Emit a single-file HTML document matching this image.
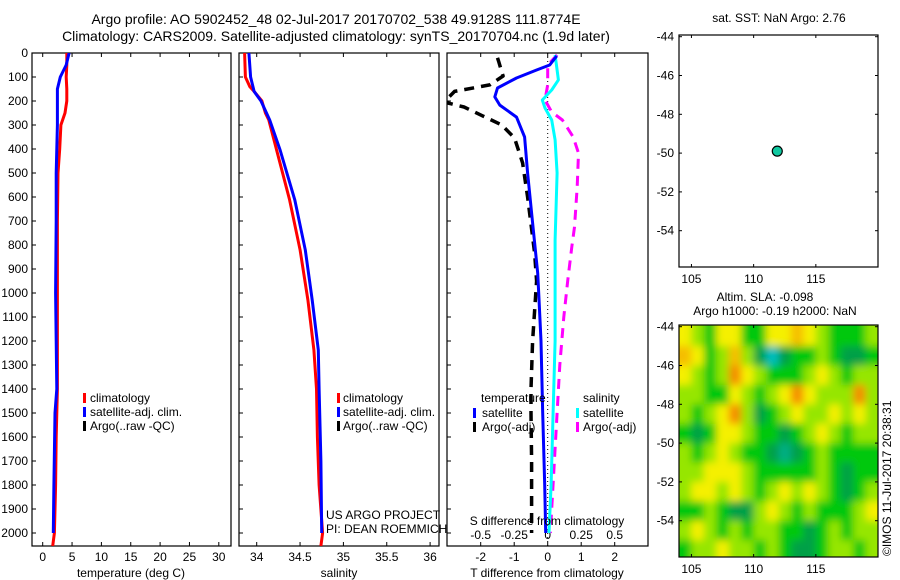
<!DOCTYPE html>
<html><head><meta charset="utf-8"><style>
body{margin:0;background:#fff}
svg{display:block;font-family:"Liberation Sans",sans-serif}
</style></head><body>
<svg id="fig" width="900" height="580" viewBox="0 0 900 580" xmlns="http://www.w3.org/2000/svg">
<defs>
<clipPath id="c1"><rect x="32" y="53" width="199" height="493"/></clipPath>
<clipPath id="c2"><rect x="239" y="53" width="200" height="493"/></clipPath>
<clipPath id="c3"><rect x="447" y="53" width="201" height="493"/></clipPath>
<clipPath id="cm"><rect x="679" y="325" width="199" height="232"/></clipPath>
<filter id="blur" x="-20%" y="-20%" width="140%" height="140%"><feGaussianBlur stdDeviation="4"/></filter>
</defs>
<text x="336" y="24" font-size="14" text-anchor="middle">Argo profile: AO 5902452_48 02-Jul-2017 20170702_538 49.9128S 111.8774E</text>
<text x="336" y="41" font-size="14" text-anchor="middle">Climatology: CARS2009. Satellite-adjusted climatology: synTS_20170704.nc (1.9d later)</text>
<g id="g"></g>
</svg>
<script>
// ---- data ----
const tClimDepth=[0,50,100,150,200,250,300,400,500,700,1000,1200,1400,1600,1800,2000,2054];
const tClimVal=[4.1,4.1,4.0,4.1,4.1,3.8,3.1,2.9,2.6,2.5,2.5,2.5,2.5,2.3,2.2,2.0,1.7];
const tSatDepth=[0,50,100,150,200,300,500,700,1000,1200,1400,1500,1800,2000];
const tSatVal=[4.5,4.0,3.0,2.5,2.5,2.5,2.3,2.3,2.2,2.3,2.4,2.1,1.9,1.8];
const sClimDepth=[0,100,140,160,200,250,279,404,612,821,1029,1237,1400,1600,1800,2000,2054];
const sClimVal=[33.86,33.87,33.92,33.97,34.06,34.10,34.14,34.23,34.38,34.50,34.59,34.66,34.69,34.70,34.72,34.76,34.74];
const sSatDepth=[0,100,160,200,279,404,612,821,1029,1237,1400,1700,2000];
const sSatVal=[33.91,33.93,33.97,34.05,34.15,34.27,34.44,34.56,34.64,34.71,34.72,34.74,34.75];
const dtSatDepth=[12,50,71,104,146,183,217,267,350,500,708,917,1000,1200,1500,1800,2000];
const dtSatVal=[0.27,0.06,-0.33,-0.93,-1.5,-1.58,-1.43,-0.93,-0.69,-0.6,-0.45,-0.3,-0.27,-0.2,-0.15,-0.09,-0.06];
const dtArgoDepth=[20,37,79,96,133,160,204,225,262,300,354,458,600,833,950,1200,1400,1500,1700,1900,2000];
const dtArgoVal=[-1.5,-1.46,-1.37,-1.33,-1.73,-2.78,-3.1,-2.5,-1.94,-1.37,-0.99,-0.75,-0.6,-0.39,-0.33,-0.45,-0.5,-0.5,-0.48,-0.48,-0.48];
const dsSatDepth=[8,71,112,154,196,229,279,362,500,779,975,1200,1500,1800,2000];
const dsSatVal=[0.055,0.07,0.08,0.03,-0.04,-0.02,0.03,0.055,0.07,0.055,0.055,0.055,0.04,0.025,0.01];
const dsArgoDepth=[8,50,83,133,196,246,279,350,417,558,725,808,946,1100,1300,1500,1700,1900,2000];
const dsArgoVal=[0.07,0.0,0.0,0.0,-0.02,0.03,0.11,0.19,0.23,0.22,0.2,0.18,0.15,0.12,0.09,0.07,0.05,0.03,0.02];
const depthTicks=[0,100,200,300,400,500,600,700,800,900,1000,1100,1200,1300,1400,1500,1600,1700,1800,1900,2000];
const tTicks=[0,5,10,15,20,25,30];
const sTicks=[34,34.5,35,35.5,36];
const dtTicks=[-2,-1,0,1,2];
const dsTicks=[-0.5,-0.25,0,0.25,0.5];
const dsTickLabels=["-0.5","-0.25","0","0.25","0.5"];
const lonTicks=[105,110,115];
const latTicks=[-44,-46,-48,-50,-52,-54];
const floatLon=[111.9];
const floatLat=[-49.9];
// SLA level grid (rows lat -44..-56 step 1, cols lon 104..120 step 1); 0=low(teal) .. 5=high(orange)
const slaGrid=[
[4,3,2,4,4,2,2,4,4,4.5,4,3,2,2,2,3],
[4.5,4,2,3,4.5,3,1,0,1,2,2,3,2,1,1,2],
[4,3,2,3,5,4,3,2,2,2,3,4,3,2,3,3],
[3,3,2,2,4,3,2,3,4,5,4,3,3,3,5,3],
[3,2,3,4,5,3,1,2,3,4,3,3,4,3,4,3],
[2,1,2,4,4,3,2,2,1,2,3,4,3,2,3,3],
[3,2,3,4,3,2,2,1,0.5,1,2,3,2,2,2,2],
[3,3,4,4,4,3,2,2,2,2,2,3,2,1,2,2],
[3,4,4,3,4,3,2,3,4,3,4,3,2,1,2,3],
[2,2,3,2,1,1,3,4,3,2,3,2,2,2,3,4],
[3,4,3,2,3,2,3,3,2,2,1,2,3,2,3,3],
[2,3,3,4,3,3,2,3,2,1,1,2,3,3,2,3]];

// ---- helpers ----
const NS="http://www.w3.org/2000/svg";
const G=document.getElementById('g');
function mk(tag,attrs,parent){const e=document.createElementNS(NS,tag);for(const k in attrs)e.setAttribute(k,attrs[k]);(parent||G).appendChild(e);return e;}
const Y0=53,PXD=0.24;
const yD=d=>Y0+d*PXD;
const xT=v=>42.7+v*5.87;
const xS=v=>256.7+(v-34)*86.7;
const xDT=v=>547.7+v*33.5;
const xDS=v=>547.7+v*134;
const xLon=v=>679+(v-104)*12.44;
const yLat1=v=>36.7+(-44-v)*19.4;
const yLat2=v=>326.7+(-44-v)*19.4;

function frame(x,y,w,h,name){const r=mk('rect',{x:x,y:y,width:w,height:h,fill:'none',stroke:'#000','stroke-width':1.2});}
function line(depths,vals,xf,color,w,dash,clip,name){
  let d='';depths.forEach((dp,i)=>{d+=(i?'L':'M')+xf(vals[i]).toFixed(1)+','+yD(dp).toFixed(1);});
  const p=mk('path',{d:d,fill:'none',stroke:color,'stroke-width':w,'clip-path':'url(#'+clip+')','stroke-linejoin':'round'});
  if(dash)p.setAttribute('stroke-dasharray',dash);
  
}
function txt(x,y,s,size,anchor,name){const t=mk('text',{x:x,y:y,'font-size':size,'text-anchor':anchor||'start'});t.textContent=s;return t;}

// depth axes
[[32,231],[239,439],[447,648]].forEach((p,pi)=>{
  depthTicks.forEach(d=>{mk('line',{x1:p[0],x2:p[0]+4,y1:yD(d),y2:yD(d),stroke:'#000'});});
});
depthTicks.forEach(d=>{txt(28,yD(d)+4,String(d),12,'end','depth-tick-label');});

// panel 1
frame(32,53,199,493,'temperature-panel');
tTicks.forEach(v=>{mk('line',{x1:xT(v),x2:xT(v),y1:53,y2:57,stroke:'#000'});mk('line',{x1:xT(v),x2:xT(v),y1:546,y2:542,stroke:'#000'});txt(xT(v),561,String(v),12,'middle','temperature-tick-label');});
txt(131,577,'temperature (deg C)',12,'middle','temperature-axis-title');
line(tClimDepth,tClimVal,xT,'#f00',3,null,'c1','temperature-climatology-line');
line(tSatDepth,tSatVal,xT,'#00f',3,null,'c1','temperature-satellite-line');

// panel 2
frame(239,53,200,493,'salinity-panel');
sTicks.forEach(v=>{mk('line',{x1:xS(v),x2:xS(v),y1:53,y2:57,stroke:'#000'});mk('line',{x1:xS(v),x2:xS(v),y1:546,y2:542,stroke:'#000'});txt(xS(v),561,String(v),12,'middle','salinity-tick-label');});
txt(339,577,'salinity',12,'middle','salinity-axis-title');
line(sClimDepth,sClimVal,xS,'#f00',3,null,'c2','salinity-climatology-line');
line(sSatDepth,sSatVal,xS,'#00f',3,null,'c2','salinity-satellite-line');

// legends panels 1,2
[[83,90],[337,343]].forEach((l,i)=>{
  const items=[['#f00','climatology'],['#00f','satellite-adj. clim.'],['#000','Argo(..raw -QC)']];
  items.forEach((it,j)=>{const y=398+j*14;mk('rect',{x:l[0],y:y-5,width:3,height:10,fill:it[0]});txt(l[1],y+4,it[1],12,'start','legend-entry');});
});
txt(326,519,'US ARGO PROJECT',12,'start','project-label');
txt(326,533,'PI: DEAN ROEMMICH',12,'start','pi-label');

// panel 3
frame(447,53,201,493,'difference-panel');
dtTicks.forEach(v=>{mk('line',{x1:xDT(v),x2:xDT(v),y1:53,y2:57,stroke:'#000'});mk('line',{x1:xDT(v),x2:xDT(v),y1:546,y2:542,stroke:'#000'});txt(xDT(v),561,String(v),12,'middle','t-diff-tick-label');});
dsTicks.forEach((v,i)=>{txt(xDS(v),539,dsTickLabels[i],12,'middle','s-diff-tick-label');});
mk('line',{x1:xDT(0),x2:xDT(0),y1:53,y2:546,stroke:'#000','stroke-width':1,'stroke-dasharray':'1 3'});
line(dtArgoDepth,dtArgoVal,xDT,'#000',3.5,'10 7','c3','t-diff-argo-line');
line(dsArgoDepth,dsArgoVal,xDS,'#f0f',3,'10 7','c3','s-diff-argo-line');
line(dsSatDepth,dsSatVal,xDS,'#0ff',3,null,'c3','s-diff-satellite-line');
line(dtSatDepth,dtSatVal,xDT,'#00f',3,null,'c3','t-diff-satellite-line');
txt(481,402,'temperature',12,'start','legend-title-temperature');
txt(583,402,'salinity',12,'start','legend-title-salinity');
[[473,482,'#00f','satellite',0],[473,482,'#000','Argo(-adj)',1],[576,583,'#0ff','satellite',0],[576,583,'#f0f','Argo(-adj)',1]].forEach(it=>{
  const y=413+it[4]*14;mk('rect',{x:it[0],y:y-5,width:3,height:10,fill:it[2]});txt(it[1],y+4,it[3],12,'start','legend-entry');});
txt(547,525,'S difference from climatology',12,'middle','s-diff-axis-title');
txt(547,577,'T difference from climatology',12,'middle','t-diff-axis-title');

// map 1
txt(779,22,'sat. SST: NaN Argo: 2.76',12,'middle','sst-map-title');
frame(679,35,199,232,'sst-map');
function mapTicks(top,bot,yl,name){
  lonTicks.forEach(v=>{mk('line',{x1:xLon(v),x2:xLon(v),y1:top,y2:top+3,stroke:'#000'});mk('line',{x1:xLon(v),x2:xLon(v),y1:bot,y2:bot-3,stroke:'#000'});txt(xLon(v),bot+16,String(v),12,'middle',name+'-lon-tick');});
  latTicks.forEach(v=>{mk('line',{x1:679,x2:682,y1:yl(v),y2:yl(v),stroke:'#000'});mk('line',{x1:878,x2:875,y1:yl(v),y2:yl(v),stroke:'#000'});txt(674,yl(v)+4,String(v),12,'end',name+'-lat-tick');});
}
mapTicks(35,267,yLat1,'sst-map');
floatLon.forEach((v,i)=>{const c=mk('circle',{cx:xLon(v),cy:yLat1(floatLat[i]),r:5,fill:'#10c8a0',stroke:'#000','stroke-width':1.2});});

// map 2 heatmap
txt(765,301,'Altim. SLA: -0.098',12,'middle','sla-map-title-1');
txt(775,315,'Argo h1000: -0.19 h2000: NaN',12,'middle','sla-map-title-2');
const stops=[[0,[0,190,190]],[1,[0,160,70]],[2,[0,200,10]],[3,[150,230,0]],[4,[245,240,0]],[5,[245,140,0]]];
function cmap(v){for(let i=0;i<stops.length-1;i++){const a=stops[i],b=stops[i+1];if(v<=b[0]){const t=(v-a[0])/(b[0]-a[0]);return 'rgb('+a[1].map((c,k)=>Math.round(c+(b[1][k]-c)*t)).join(',')+')';}}return 'rgb(245,140,0)';}
const hc=mk('g',{'clip-path':'url(#cm)'});

const hb=mk('g',{filter:'url(#blur)'},hc);
slaGrid.forEach((row,r)=>{row.forEach((v,c)=>{
  let x0=xLon(104+c),x1=xLon(105+c),y0=yLat2(-44-r),y1=yLat2(-45-r);
  if(c===0)x0-=20;if(c===row.length-1)x1+=20;if(r===0)y0-=20;if(r===slaGrid.length-1)y1+=20;
  const cell=mk('rect',{x:x0.toFixed(1),y:y0.toFixed(1),width:(x1-x0+0.5).toFixed(1),height:(y1-y0+0.5).toFixed(1),fill:cmap(v)},hb);
  
  
});});
frame(679,325,199,232,'sla-map');
mapTicks(325,557,yLat2,'sla-map');
const rt=txt(0,0,'©IMOS 11-Jul-2017 20:38:31',12,'start','imos-timestamp');
rt.setAttribute('transform','translate(891,556) rotate(-90)');
</script>
</body></html>
